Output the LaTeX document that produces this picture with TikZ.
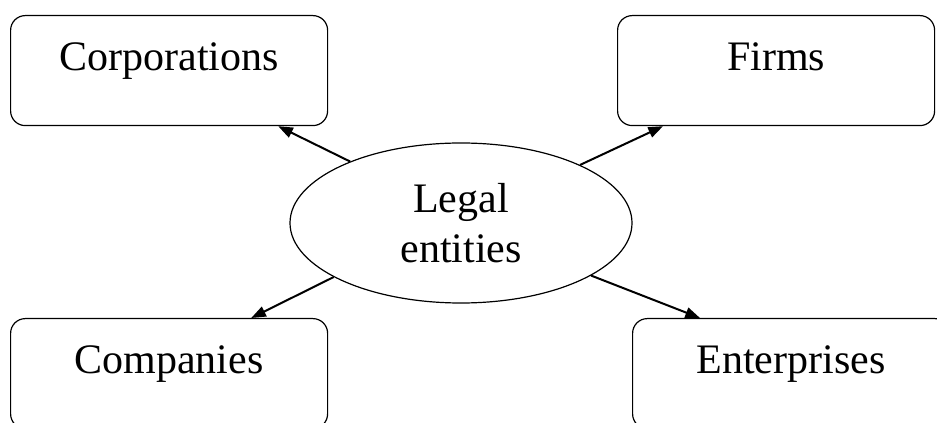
\documentclass[tikz,border=0pt]{standalone}
\usepackage{fontspec}
\setmainfont{Liberation Serif}
\usetikzlibrary{arrows.meta,calc,shapes.geometric}
\begin{document}
\begin{tikzpicture}[x=0.75pt,y=-0.75pt,
 box/.style={draw, line width=0.9pt, rounded corners=11pt, minimum width=237.75pt, minimum height=82.5pt, inner sep=0pt, anchor=north west, font=\fontsize{31.5}{37.5}\selectfont, text height=22pt, text depth=22pt},
 hub/.style={ellipse, draw, line width=0.9pt, minimum width=256.5pt, minimum height=120pt, inner sep=0pt, align=center, font=\fontsize{31.5}{37.5}\selectfont},
 link/.style={line width=1.5pt, -{Triangle[length=11pt,width=8pt]}}]
\useasboundingbox (0,0) rectangle (937,423);
\node[box] (corp) at (10,15) {Corporations};
\node[box] (firm) at (617,15) {Firms};
\node[box] (comp) at (10,318) {Companies};
\node[box] (ent) at (632,318) {Enterprises};
\node[hub] (hub) at (461,223) {Legal\\entities};
\draw[link] (hub.151) -- ($(corp.south east)+(-50,0)$);
\draw[link] (hub.26) -- ($(firm.south west)+(46,0)$);
\draw[link] (hub.203) -- ($(comp.north east)+(-77,0)$);
\draw[link] (hub.338) -- ($(ent.north west)+(68,0)$);
\end{tikzpicture}
\end{document}
